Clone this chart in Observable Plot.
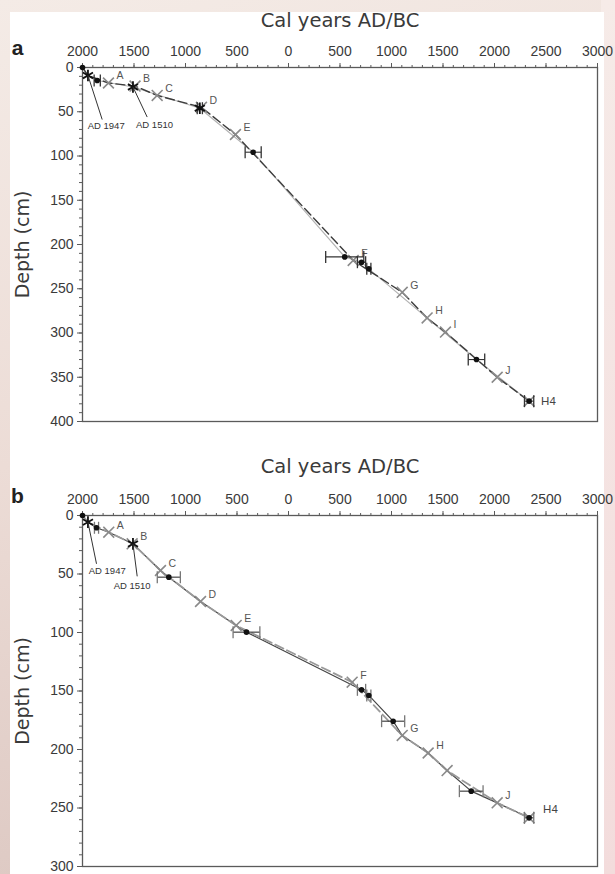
<!DOCTYPE html>
<html>
<head>
<meta charset="utf-8">
<script src="https://cdn.jsdelivr.net/npm/d3@7"></script>
<script src="https://cdn.jsdelivr.net/npm/@observablehq/plot@0.6"></script>
<style>
  html, body { margin: 0; padding: 0; }
  body {
    width: 615px; height: 874px; overflow: hidden; position: relative;
    background: linear-gradient(165deg, #f4ebe6 0%, #ecdcd6 45%, #d9c3bd 100%);
  }
  #edge { position: absolute; right: 0; top: 0; width: 14px; height: 874px;
          background: linear-gradient(to bottom, #f6ebe8, #f3dcdc); }
  #sheet { position: absolute; left: 10px; top: 12px; width: 594px; height: 862px; background: #fff; }
  .panel { position: absolute; left: 0; }
</style>
</head>
<body>
<div id="edge"></div>
<div id="sheet"></div>
<div id="pa" class="panel" style="top:0px"></div>
<div id="pb" class="panel" style="top:448px"></div>
<script>
// Calendar axis: positive = AD, negative = BC (labels show absolute values)
const yearTicks = [2000, 1500, 1000, 500, 0, -500, -1000, -1500, -2000, -2500, -3000];
const depthTicksA = [0, 50, 100, 150, 200, 250, 300, 350, 400];
const depthTicksB = [0, 50, 100, 150, 200, 250, 300];

// ---- Core a ----
// radiocarbon-dated levels (calibrated mid-point, depth, 2-sigma half-range)
const aDatedYear  = [2000, 1857, 343, -546, -709, -780, -1825, -2336];
const aDatedDepth = [0, 14.7, 95.7, 214, 220, 227.5, 330, 377];
const aDatedErr   = [0, 30, 78, 185, 40, 20, 80, 45];
// independent time markers (AD 1947, AD 1510, D)
const aStarYear  = [1947, 1510, 861];
const aStarDepth = [9, 22, 46];
const aStarErr   = [0, 0, 25];
// tephra layers
const aTephraName  = ["A", "B", "C", "D", "E", "F", "G", "H", "I", "J", ""];
const aTephraYear  = [1748, 1490, 1275, 845, 515, -628, -1104, -1346, -1524, -2026, -2336];
const aTephraDepth = [17.5, 21, 31.6, 45, 75.7, 218, 254, 283, 299, 350, 377];
// age-depth models
const aSolidYear  = [2000, 1947, 1857, 1510, 861, 343, -546, -709, -780, -1825, -2336];
const aSolidDepth = [0, 9, 14.7, 22, 46, 95.7, 214, 220, 227.5, 330, 377];
const aDashYear   = [2000, 1947, 1748, 1490, 1275, 845, 515, -628, -1104, -1346, -1524, -2026, -2336];
const aDashDepth  = [0, 9, 17.5, 21, 31.6, 45, 75.7, 218, 254, 283, 299, 350, 377];
// annotations
const aNoteText      = ["AD 1947", "AD 1510"];
const aNoteFromYear  = [1947, 1510];
const aNoteFromDepth = [9, 22];
const aNoteToYear    = [1809, 1372];
const aNoteToDepth   = [58.8, 56];
const aNoteLabYear   = [1770, 1301];
const aNoteLabDepth  = [65.5, 65];

// ---- Core b ----
const bDatedYear  = [2000, 1864, 1162, 408, -709, -780, -1016, -1774, -2336];
const bDatedDepth = [0, 10.5, 52.7, 99.7, 149, 153.8, 175.8, 235.6, 258.4];
const bDatedErr   = [0, 20, 112, 130, 40, 20, 112, 115, 45];
const bStarYear  = [1947, 1510];
const bStarDepth = [5.7, 24.2];
const bStarErr   = [0, 0];
const bTephraName  = ["A", "B", "C", "D", "E", "F", "G", "H", "", "J", ""];
const bTephraYear  = [1745, 1518, 1243, 854, 508, -618, -1104, -1356, -1540, -2026, -2336];
const bTephraDepth = [14.3, 24.2, 47, 73.5, 94, 142.5, 188, 203, 218, 245.6, 258.4];
const bSolidYear  = [2000, 1947, 1864, 1745, 1510, 1243, 1162, 854, 508, 408, -709, -780, -1016, -1104, -1356, -1540, -1774, -2026, -2336];
const bSolidDepth = [0, 5.7, 10.5, 14.3, 24.2, 47, 52.7, 73.5, 94, 99.7, 149, 153.8, 175.8, 188, 203, 218, 235.6, 245.6, 258.4];
const bDashYear   = [2000, 1947, 1745, 1510, 1243, 854, 508, -618, -1104, -1356, -1540, -2026, -2336];
const bDashDepth  = [0, 5.7, 14.3, 24.2, 47, 73.5, 94, 142.5, 188, 203, 218, 245.6, 258.4];
const bNoteText      = ["AD 1947", "AD 1510"];
const bNoteFromYear  = [1947, 1510];
const bNoteFromDepth = [5.7, 24.2];
const bNoteToYear    = [1864, 1469];
const bNoteToDepth   = [41.3, 52];
const bNoteLabYear   = [1760, 1518];
const bNoteLabDepth  = [47.6, 59.8];

const zip = (xs, ys, extra = {}) => xs.map((x, i) => {
  const o = {x, y: ys[i]};
  for (const k in extra) o[k] = extra[k][i];
  return o;
});

// vertical cap for error bars
const capSymbol = {
  draw(ctx, size) {
    const h = Math.sqrt(size / Math.PI);
    ctx.moveTo(0, -h); ctx.lineTo(0, h);
  }
};

const sans = "'Liberation Sans', Arial, sans-serif";
const wide = "'DejaVu Sans', Verdana, sans-serif";

function panel(o) {
  const dated = zip(o.datedYear, o.datedDepth, {e: o.datedErr});
  const stars = zip(o.starYear, o.starDepth, {e: o.starErr});
  const tephra = zip(o.tephraYear, o.tephraDepth, {name: o.tephraName});
  const errs = dated.concat(stars).filter(d => d.e > 0);
  const caps = errs.flatMap(d => [{x: d.x - d.e, y: d.y}, {x: d.x + d.e, y: d.y}]);
  const solid = zip(o.solidYear, o.solidDepth);
  const dash = zip(o.dashYear, o.dashDepth);
  const notes = o.noteText.map((t, i) => ({
    t, fx: o.noteFromYear[i], fy: o.noteFromDepth[i],
    tx: o.noteToYear[i], ty: o.noteToDepth[i],
    lx: o.noteLabYear[i], ly: o.noteLabDepth[i]
  }));
  const last = dated[dated.length - 1];
  const maxD = o.depthTicks[o.depthTicks.length - 1];

  return Plot.plot({
    width: 615,
    height: o.height,
    marginLeft: 82, marginRight: 18, marginTop: 67, marginBottom: o.marginBottom,
    style: {fontFamily: sans, fontSize: "13px", color: "#3a3a3a", background: "transparent", overflow: "visible"},
    x: {domain: [2000, -3000], axis: null},
    y: {domain: [0, maxD], reverse: true, axis: null},
    marks: [
      Plot.frame({stroke: "#5a5a5a", strokeWidth: 1.3}),
      Plot.axisX(d3.range(2000, -3001, -100), {anchor: "top", tickSize: 3, tickFormat: () => "", label: null, stroke: "#5a5a5a"}),
      Plot.axisX(yearTicks, {anchor: "top", tickSize: 5, tickPadding: 7, tickFormat: d => String(Math.abs(d)), label: null, stroke: "#5a5a5a", fill: "#3a3a3a", fontSize: 14}),
      Plot.axisY(d3.range(0, maxD + 1, 10), {anchor: "left", tickSize: 3, tickFormat: () => "", label: null, stroke: "#5a5a5a"}),
      Plot.axisY(o.depthTicks, {anchor: "left", tickSize: 5, tickPadding: 4, tickFormat: d => String(d), label: null, stroke: "#5a5a5a", fill: "#3a3a3a", fontSize: 14}),
      Plot.text(["Cal years AD/BC"], {frameAnchor: "top", dy: o.titleDy, lineAnchor: "middle", fontFamily: wide, fontSize: 19.5, fill: "#3a3a3a"}),
      Plot.text([o.tag], {frameAnchor: "top-left", dx: -65, dy: o.tagDy, textAnchor: "middle", lineAnchor: "middle", fontFamily: sans, fontWeight: "bold", fontSize: 21, fill: "#222"}),
      Plot.text(["Depth (cm)"], {frameAnchor: "left", rotate: -90, dx: -60, textAnchor: "middle", lineAnchor: "middle", fontFamily: wide, fontSize: 19, fill: "#3a3a3a"}),
      // age-depth models
      Plot.line(solid, {x: "x", y: "y", stroke: o.solidStroke, strokeWidth: o.solidWidth}),
      Plot.line(dash, {x: "x", y: "y", stroke: o.dashStroke, strokeWidth: o.dashWidth, strokeDasharray: "9,4"}),
      // tephra layers
      Plot.dot(tephra, {x: "x", y: "y", symbol: "times", r: 5, stroke: "#8a8a8a", strokeWidth: 1.6}),
      Plot.text(tephra.filter(d => d.name), {x: "x", y: "y", text: "name", dx: 8, dy: -7, textAnchor: "start", fontSize: 10.5, fill: "#555"}),
      // error bars
      Plot.link(errs, {x1: d => d.x - d.e, x2: d => d.x + d.e, y1: "y", y2: "y", stroke: "#333", strokeWidth: 1.1}),
      Plot.dot(caps, {x: "x", y: "y", symbol: capSymbol, r: 6, fill: "none", stroke: o.capStroke, strokeWidth: 1.3}),
      // dated levels and time markers
      Plot.dot(dated, {x: "x", y: "y", r: 2.8, fill: "#111"}),
      Plot.dot(stars, {x: "x", y: "y", symbol: "asterisk", r: 5.5, stroke: "#111", strokeWidth: 1.8}),
      Plot.text([last], {x: "x", y: "y", text: () => "H4", dx: o.h4dx, dy: o.h4dy, textAnchor: "start", fontSize: 11.5, fill: "#444"}),
      // historical marker annotations
      Plot.link(notes, {x1: "fx", y1: "fy", x2: "tx", y2: "ty", stroke: "#333", strokeWidth: 1}),
      Plot.text(notes, {x: "lx", y: "ly", text: "t", fontSize: 9.5, fill: "#333"})
    ]
  });
}

document.getElementById("pa").append(panel({
  tag: "a", height: 440, marginBottom: 19, titleDy: -47, tagDy: -19,
  depthTicks: depthTicksA,
  datedYear: aDatedYear, datedDepth: aDatedDepth, datedErr: aDatedErr,
  starYear: aStarYear, starDepth: aStarDepth, starErr: aStarErr,
  tephraName: aTephraName, tephraYear: aTephraYear, tephraDepth: aTephraDepth,
  solidYear: aSolidYear, solidDepth: aSolidDepth, dashYear: aDashYear, dashDepth: aDashDepth,
  solidStroke: "#b4b4b4", solidWidth: 1.2, dashStroke: "#3c3c3c", dashWidth: 1.4,
  capStroke: "#333", h4dx: 12, h4dy: 0,
  noteText: aNoteText, noteFromYear: aNoteFromYear, noteFromDepth: aNoteFromDepth,
  noteToYear: aNoteToYear, noteToDepth: aNoteToDepth, noteLabYear: aNoteLabYear, noteLabDepth: aNoteLabDepth
}));

document.getElementById("pb").append(panel({
  tag: "b", height: 426, marginBottom: 8, titleDy: -49, tagDy: -19,
  depthTicks: depthTicksB,
  datedYear: bDatedYear, datedDepth: bDatedDepth, datedErr: bDatedErr,
  starYear: bStarYear, starDepth: bStarDepth, starErr: bStarErr,
  tephraName: bTephraName, tephraYear: bTephraYear, tephraDepth: bTephraDepth,
  solidYear: bSolidYear, solidDepth: bSolidDepth, dashYear: bDashYear, dashDepth: bDashDepth,
  solidStroke: "#444", solidWidth: 1.2, dashStroke: "#9a9a9a", dashWidth: 1.8,
  capStroke: "#777", h4dx: 14, h4dy: -9,
  noteText: bNoteText, noteFromYear: bNoteFromYear, noteFromDepth: bNoteFromDepth,
  noteToYear: bNoteToYear, noteToDepth: bNoteToDepth, noteLabYear: bNoteLabYear, noteLabDepth: bNoteLabDepth
}));
</script>
</body>
</html>
